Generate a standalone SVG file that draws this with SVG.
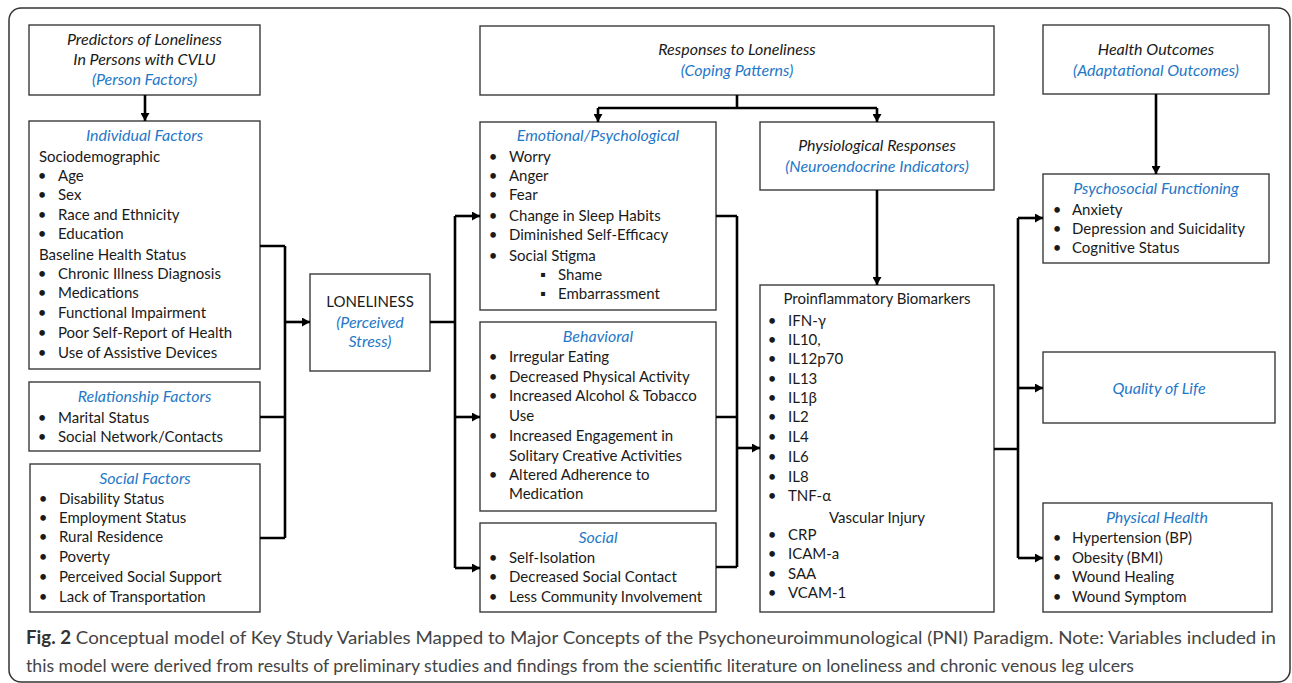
<svg xmlns="http://www.w3.org/2000/svg" width="1292" height="683" viewBox="0 0 1292 683">
<defs>
<marker id="ah" markerUnits="userSpaceOnUse" markerWidth="9" markerHeight="9" refX="8" refY="4.5" orient="auto">
<path d="M0,0 L8,4.5 L0,9 z" fill="#000"/>
</marker>
<style>
.frame{fill:#fff;stroke:#333;stroke-width:1.5}
.box{fill:#fff;stroke:#3a3a3a;stroke-width:1.4}
text{font-family:Lato,"Liberation Sans",sans-serif;font-size:15px;fill:#1a1a1a}
.it{font-style:italic;font-size:16px}
.bl{font-style:italic;font-size:16px;fill:#1f78c8}
.c{text-anchor:middle}
.cap{font-size:18px;fill:#444}
.con{fill:none;stroke:#000;stroke-width:2.6}
.arr{fill:none;stroke:#000;stroke-width:2.6;marker-end:url(#ah)}
</style>
</defs>
<rect x="0" y="0" width="1292" height="683" fill="#fff"/>
<rect class="frame" x="9" y="8" width="1281" height="674" rx="12"/>

<g id="predictors">
<rect class="box" x="29" y="25" width="231" height="70"/>
<text class="it c" x="144.5" y="45">Predictors of Loneliness</text>
<text class="it c" x="144.5" y="65">In Persons with CVLU</text>
<text class="bl c" x="144.5" y="85">(Person Factors)</text>
</g>

<g id="individual-factors">
<rect class="box" x="29" y="121" width="231" height="248"/>
<text class="bl c" x="144.5" y="141">Individual Factors</text>
<text x="39" y="162">Sociodemographic</text>
<text class="c" x="42" y="181">•</text><text x="58" y="181">Age</text>
<text class="c" x="42" y="200">•</text><text x="58" y="200">Sex</text>
<text class="c" x="42" y="220">•</text><text x="58" y="220">Race and Ethnicity</text>
<text class="c" x="42" y="239">•</text><text x="58" y="239">Education</text>
<text x="39" y="260">Baseline Health Status</text>
<text class="c" x="42" y="279">•</text><text x="58" y="279">Chronic Illness Diagnosis</text>
<text class="c" x="42" y="298">•</text><text x="58" y="298">Medications</text>
<text class="c" x="42" y="318">•</text><text x="58" y="318">Functional Impairment</text>
<text class="c" x="42" y="338">•</text><text x="58" y="338">Poor Self-Report of Health</text>
<text class="c" x="42" y="358">•</text><text x="58" y="358">Use of Assistive Devices</text>
</g>

<g id="relationship-factors">
<rect class="box" x="29" y="382" width="231" height="69"/>
<text class="bl c" x="144.5" y="402">Relationship Factors</text>
<text class="c" x="42" y="423">•</text><text x="58" y="423">Marital Status</text>
<text class="c" x="42" y="442">•</text><text x="58" y="442">Social Network/Contacts</text>
</g>

<g id="social-factors">
<rect class="box" x="30" y="464" width="230" height="148"/>
<text class="bl c" x="145" y="484">Social Factors</text>
<text class="c" x="43" y="504">•</text><text x="59" y="504">Disability Status</text>
<text class="c" x="43" y="523">•</text><text x="59" y="523">Employment Status</text>
<text class="c" x="43" y="542">•</text><text x="59" y="542">Rural Residence</text>
<text class="c" x="43" y="562">•</text><text x="59" y="562">Poverty</text>
<text class="c" x="43" y="582">•</text><text x="59" y="582">Perceived Social Support</text>
<text class="c" x="43" y="602">•</text><text x="59" y="602">Lack of Transportation</text>
</g>

<g id="loneliness">
<rect class="box" x="310" y="274" width="120" height="97"/>
<text class="c" x="370" y="307" font-size="14">LONELINESS</text>
<text class="bl c" x="370" y="328">(Perceived</text>
<text class="bl c" x="370" y="347">Stress)</text>
</g>

<g id="responses">
<rect class="box" x="480" y="26" width="514" height="69"/>
<text class="it c" x="737" y="55">Responses to Loneliness</text>
<text class="bl c" x="737" y="76">(Coping Patterns)</text>
</g>

<g id="emotional">
<rect class="box" x="480" y="122" width="236" height="188"/>
<text class="bl c" x="598" y="141">Emotional/Psychological</text>
<text class="c" x="493" y="162">•</text><text x="509" y="162">Worry</text>
<text class="c" x="493" y="181">•</text><text x="509" y="181">Anger</text>
<text class="c" x="493" y="200">•</text><text x="509" y="200">Fear</text>
<text class="c" x="493" y="221">•</text><text x="509" y="221">Change in Sleep Habits</text>
<text class="c" x="493" y="240">•</text><text x="509" y="240">Diminished Self-Efficacy</text>
<text class="c" x="493" y="261">•</text><text x="509" y="261">Social Stigma</text>
<text class="c" x="543" y="280">▪</text><text x="558" y="280">Shame</text>
<text class="c" x="543" y="299">▪</text><text x="558" y="299">Embarrassment</text>
</g>

<g id="behavioral">
<rect class="box" x="480" y="322" width="236" height="189"/>
<text class="bl c" x="598" y="342">Behavioral</text>
<text class="c" x="493" y="362">•</text><text x="509" y="362">Irregular Eating</text>
<text class="c" x="493" y="382">•</text><text x="509" y="382">Decreased Physical Activity</text>
<text class="c" x="493" y="401">•</text><text x="509" y="401">Increased Alcohol &amp; Tobacco</text>
<text x="509" y="421">Use</text>
<text class="c" x="493" y="441">•</text><text x="509" y="441">Increased Engagement in</text>
<text x="509" y="461">Solitary Creative Activities</text>
<text class="c" x="493" y="480">•</text><text x="509" y="480">Altered Adherence to</text>
<text x="509" y="499">Medication</text>
</g>

<g id="social">
<rect class="box" x="480" y="523" width="236" height="89"/>
<text class="bl c" x="598" y="543">Social</text>
<text class="c" x="493" y="563">•</text><text x="509" y="563">Self-Isolation</text>
<text class="c" x="493" y="582">•</text><text x="509" y="582">Decreased Social Contact</text>
<text class="c" x="493" y="602">•</text><text x="509" y="602">Less Community Involvement</text>
</g>

<g id="physiological">
<rect class="box" x="760" y="122" width="234" height="68"/>
<text class="it c" x="877" y="151">Physiological Responses</text>
<text class="bl c" x="877" y="172">(Neuroendocrine Indicators)</text>
</g>

<g id="biomarkers">
<rect class="box" x="760" y="285" width="234" height="327"/>
<text class="c" x="877" y="304">Proinflammatory Biomarkers</text>
<text class="c" x="772" y="326">•</text><text x="788" y="326">IFN-γ</text>
<text class="c" x="772" y="345">•</text><text x="788" y="345">IL10,</text>
<text class="c" x="772" y="364">•</text><text x="788" y="364">IL12p70</text>
<text class="c" x="772" y="384">•</text><text x="788" y="384">IL13</text>
<text class="c" x="772" y="403">•</text><text x="788" y="403">IL1β</text>
<text class="c" x="772" y="422">•</text><text x="788" y="422">IL2</text>
<text class="c" x="772" y="442">•</text><text x="788" y="442">IL4</text>
<text class="c" x="772" y="462">•</text><text x="788" y="462">IL6</text>
<text class="c" x="772" y="482">•</text><text x="788" y="482">IL8</text>
<text class="c" x="772" y="501">•</text><text x="788" y="501">TNF-α</text>
<text class="c" x="877" y="523">Vascular Injury</text>
<text class="c" x="772" y="540">•</text><text x="788" y="540">CRP</text>
<text class="c" x="772" y="559">•</text><text x="788" y="559">ICAM-a</text>
<text class="c" x="772" y="579">•</text><text x="788" y="579">SAA</text>
<text class="c" x="772" y="598">•</text><text x="788" y="598">VCAM-1</text>
</g>

<g id="health-outcomes">
<rect class="box" x="1043" y="25" width="226" height="69"/>
<text class="it c" x="1156" y="55">Health Outcomes</text>
<text class="bl c" x="1156" y="76">(Adaptational Outcomes)</text>
</g>

<g id="psychosocial">
<rect class="box" x="1043" y="174" width="226" height="89"/>
<text class="bl c" x="1156" y="194">Psychosocial Functioning</text>
<text class="c" x="1057" y="215">•</text><text x="1072" y="215">Anxiety</text>
<text class="c" x="1057" y="234">•</text><text x="1072" y="234">Depression and Suicidality</text>
<text class="c" x="1057" y="253">•</text><text x="1072" y="253">Cognitive Status</text>
</g>

<g id="quality-of-life">
<rect class="box" x="1043" y="352" width="232" height="71"/>
<text class="bl c" x="1159" y="394">Quality of Life</text>
</g>

<g id="physical-health">
<rect class="box" x="1043" y="503" width="229" height="109"/>
<text class="bl c" x="1157" y="523">Physical Health</text>
<text class="c" x="1057" y="543">•</text><text x="1072" y="543">Hypertension (BP)</text>
<text class="c" x="1057" y="563">•</text><text x="1072" y="563">Obesity (BMI)</text>
<text class="c" x="1057" y="582">•</text><text x="1072" y="582">Wound Healing</text>
<text class="c" x="1057" y="602">•</text><text x="1072" y="602">Wound Symptom</text>
</g>

<g id="connectors">
<path class="arr" d="M145,95 V121"/>
<path class="con" d="M260,246 H285 M260,417 H285 M260,538 H285 M285,246 V538"/>
<path class="arr" d="M285,322 H310"/>
<path class="con" d="M430,322 H455 M455,216 V568"/>
<path class="arr" d="M455,216 H480"/>
<path class="arr" d="M455,417 H480"/>
<path class="arr" d="M455,568 H480"/>
<path class="con" d="M737,95 V108 M598,108 H877"/>
<path class="arr" d="M598,108 V122"/>
<path class="arr" d="M877,108 V122"/>
<path class="con" d="M716,216 H737 M716,417 H737 M716,567 H737 M737,216 V567"/>
<path class="arr" d="M737,448 H760"/>
<path class="arr" d="M877,190 V285"/>
<path class="con" d="M994,449 H1018 M1018,218 V558"/>
<path class="arr" d="M1018,218 H1043"/>
<path class="arr" d="M1018,388 H1043"/>
<path class="arr" d="M1018,558 H1043"/>
<path class="arr" d="M1156,94 V174"/>
</g>

<g id="caption">
<text class="cap" x="26" y="644" textLength="1250" lengthAdjust="spacingAndGlyphs"><tspan font-weight="bold" fill="#333">Fig. 2</tspan> Conceptual model of Key Study Variables Mapped to Major Concepts of the Psychoneuroimmunological (PNI) Paradigm. Note: Variables included in</text>
<text class="cap" x="26" y="672" textLength="1108" lengthAdjust="spacingAndGlyphs">this model were derived from results of preliminary studies and findings from the scientific literature on loneliness and chronic venous leg ulcers</text>
</g>
</svg>
